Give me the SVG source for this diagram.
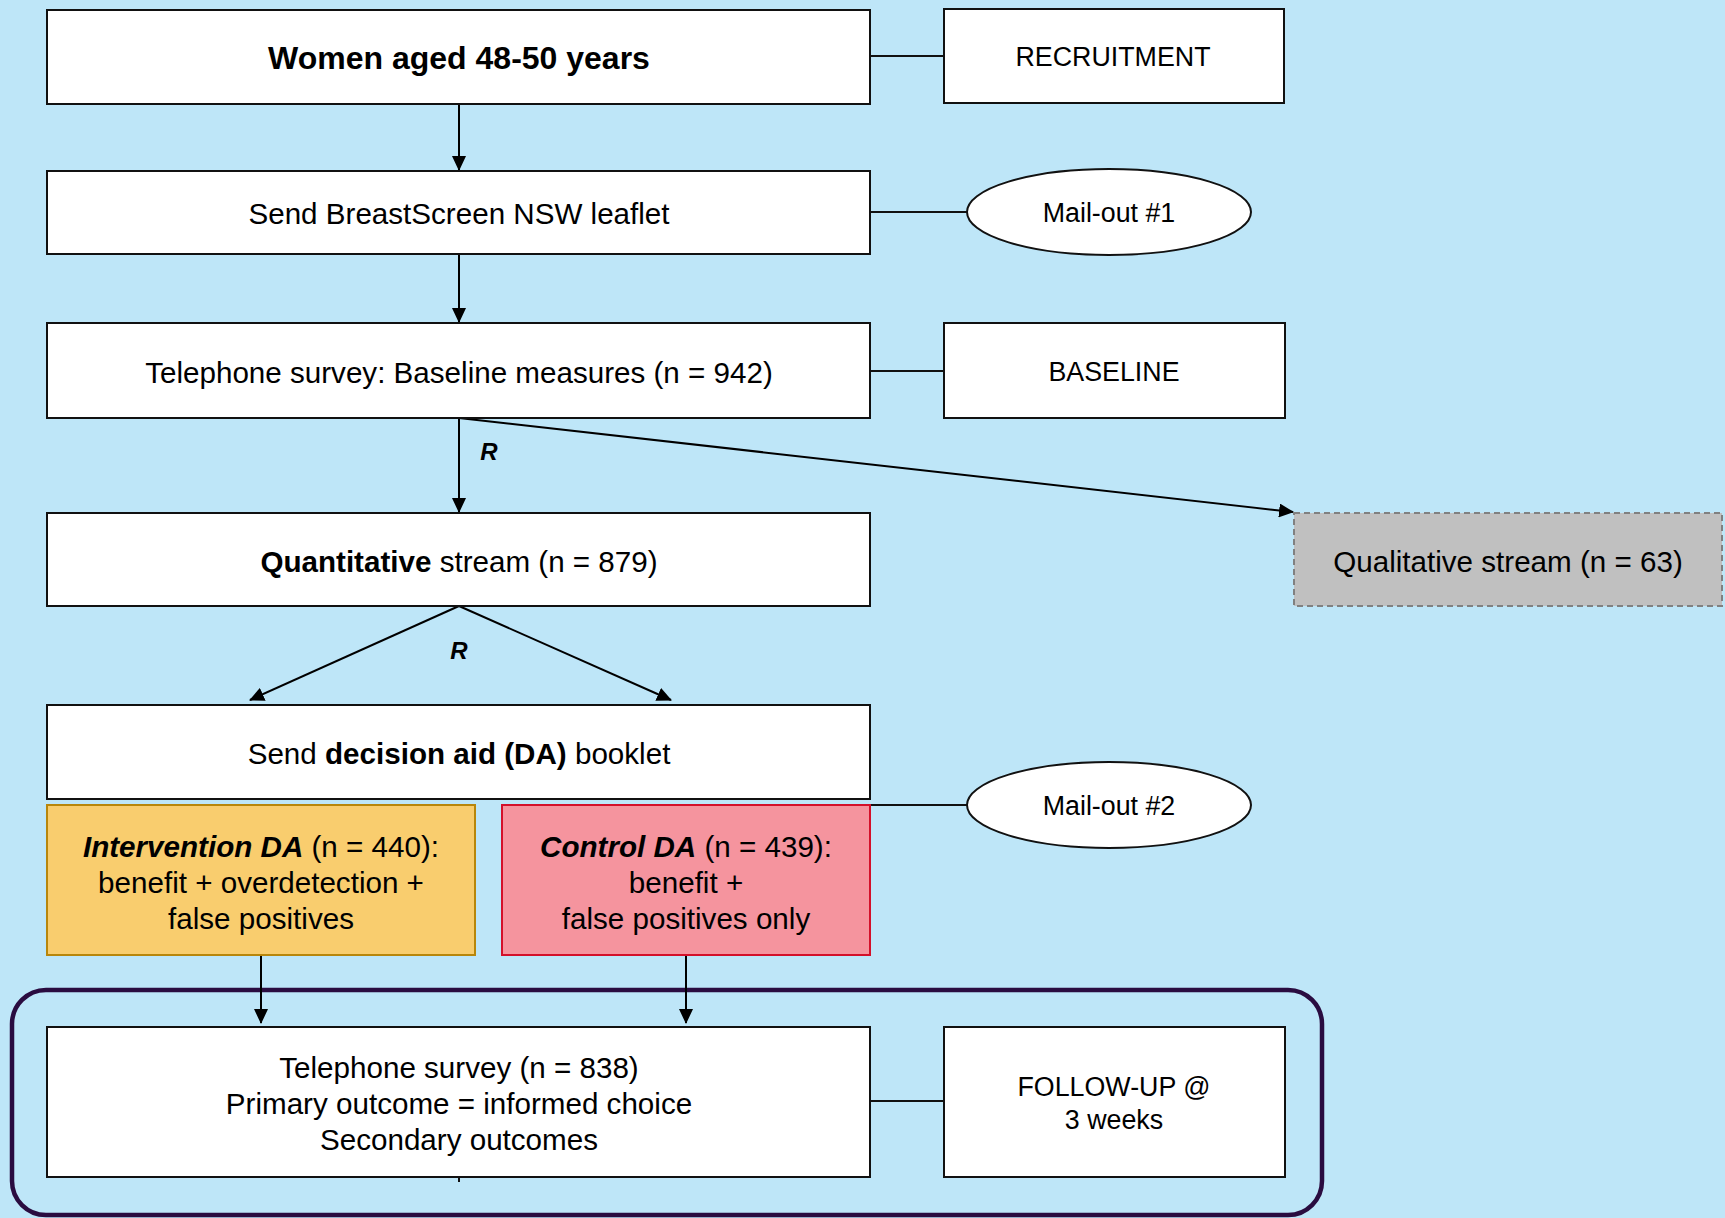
<svg xmlns="http://www.w3.org/2000/svg" width="1725" height="1218" viewBox="0 0 1725 1218">
<defs>
<marker id="arr" markerWidth="15" markerHeight="14" viewBox="0 0 15 14" refX="14" refY="7" orient="auto" markerUnits="userSpaceOnUse">
<path d="M0,0 L15,7 L0,14 Z" fill="#000"/>
</marker>
<style>
.box{fill:#fff;stroke:#111;stroke-width:2}
.ell{fill:#fff;stroke:#111;stroke-width:2}
.t{font-family:"Liberation Sans",Arial,sans-serif;font-size:29.6px;fill:#000;text-anchor:middle;dominant-baseline:central}
.s{font-size:26.8px}
.b{font-weight:bold}
.bi{font-weight:bold;font-style:italic}
.ln{stroke:#111;stroke-width:2;fill:none}
.ar{stroke:#000;stroke-width:2;fill:none;marker-end:url(#arr)}
</style>
</defs>
<rect x="0" y="0" width="1725" height="1218" fill="#bee6f8"/>

<g id="followup-frame">
<rect x="12" y="990" width="1310" height="225" rx="34" ry="34" fill="none" stroke="#2a0c40" stroke-width="4.5"/>
</g>

<g id="connectors">
<line class="ln" x1="870" y1="56" x2="944" y2="56"/>
<line class="ln" x1="870" y1="212" x2="967" y2="212"/>
<line class="ln" x1="870" y1="371" x2="944" y2="371"/>
<line class="ln" x1="870" y1="805" x2="967" y2="805"/>
<line class="ln" x1="870" y1="1101" x2="944" y2="1101"/>
<line class="ar" x1="459" y1="104" x2="459" y2="170"/>
<line class="ar" x1="459" y1="254" x2="459" y2="322"/>
<line class="ar" x1="459" y1="418" x2="459" y2="512"/>
<line class="ar" x1="459" y1="418" x2="1293" y2="512"/>
<line class="ar" x1="459" y1="606" x2="250" y2="700"/>
<line class="ar" x1="459" y1="606" x2="671" y2="700"/>
<line class="ar" x1="261" y1="955" x2="261" y2="1023"/>
<line class="ar" x1="686" y1="955" x2="686" y2="1023"/>
<line class="ln" x1="459" y1="1177" x2="459" y2="1182"/>
<text class="t bi" x="489" y="451" style="font-size:24px">R</text>
<text class="t bi" x="459" y="650" style="font-size:24px">R</text>
</g>

<g id="n-women">
<rect class="box" x="47" y="10" width="823" height="94"/>
<text class="t b" x="459" y="58" style="font-size:32px">Women aged 48-50 years</text>
</g>
<g id="n-recruitment">
<rect class="box" x="944" y="9" width="340" height="94"/>
<text class="t s" x="1113" y="57">RECRUITMENT</text>
</g>
<g id="n-leaflet">
<rect class="box" x="47" y="171" width="823" height="83"/>
<text class="t" x="459" y="213">Send BreastScreen NSW leaflet</text>
</g>
<g id="n-mailout1">
<ellipse class="ell" cx="1109" cy="212" rx="142" ry="43"/>
<text class="t s" x="1109" y="213">Mail-out #1</text>
</g>
<g id="n-baseline-survey">
<rect class="box" x="47" y="323" width="823" height="95"/>
<text class="t" x="459" y="372">Telephone survey: Baseline measures (n = 942)</text>
</g>
<g id="n-baseline">
<rect class="box" x="944" y="323" width="341" height="95"/>
<text class="t s" x="1114" y="372">BASELINE</text>
</g>
<g id="n-quant">
<rect class="box" x="47" y="513" width="823" height="93"/>
<text class="t" x="459" y="561"><tspan class="b">Quantitative</tspan> stream (n = 879)</text>
</g>
<g id="n-qual">
<rect x="1294" y="513" width="428" height="93" fill="#c0c0c0" stroke="#808080" stroke-width="2" stroke-dasharray="6,4"/>
<text class="t" x="1508" y="561">Qualitative stream (n = 63)</text>
</g>
<g id="n-da">
<rect class="box" x="47" y="705" width="823" height="94"/>
<text class="t" x="459" y="753">Send <tspan class="b">decision aid (DA)</tspan> booklet</text>
</g>
<g id="n-mailout2">
<ellipse class="ell" cx="1109" cy="805" rx="142" ry="43"/>
<text class="t s" x="1109" y="806">Mail-out #2</text>
</g>
<g id="n-intervention">
<rect x="47" y="805" width="428" height="150" fill="#f9cd6e" stroke="#b8860b" stroke-width="2"/>
<text class="t" x="261" y="846"><tspan class="bi">Intervention DA</tspan> (n = 440):</text>
<text class="t" x="261" y="882">benefit + overdetection +</text>
<text class="t" x="261" y="918">false positives</text>
</g>
<g id="n-control">
<rect x="502" y="805" width="368" height="150" fill="#f5949e" stroke="#d4102a" stroke-width="2"/>
<text class="t" x="686" y="846"><tspan class="bi">Control DA</tspan> (n = 439):</text>
<text class="t" x="686" y="882">benefit +</text>
<text class="t" x="686" y="918">false positives only</text>
</g>
<g id="n-followup-survey">
<rect class="box" x="47" y="1027" width="823" height="150"/>
<text class="t" x="459" y="1067">Telephone survey (n = 838)</text>
<text class="t" x="459" y="1103">Primary outcome = informed choice</text>
<text class="t" x="459" y="1139">Secondary outcomes</text>
</g>
<g id="n-followup">
<rect class="box" x="944" y="1027" width="341" height="150"/>
<text class="t s" x="1114" y="1087">FOLLOW-UP @</text>
<text class="t s" x="1114" y="1120">3 weeks</text>
</g>
</svg>
